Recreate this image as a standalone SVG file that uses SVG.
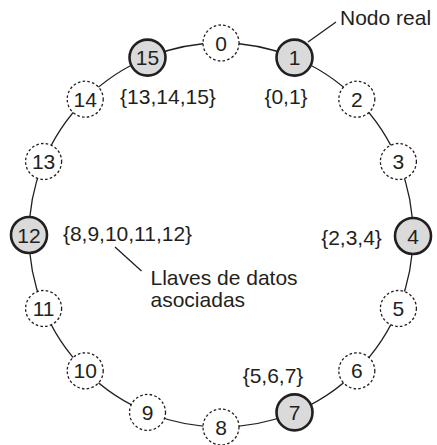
<svg xmlns="http://www.w3.org/2000/svg" width="437" height="445" viewBox="0 0 437 445">
<style>
text{font-family:"Liberation Sans",Arial,sans-serif;font-size:21px;fill:#231f20}
.n text{text-anchor:middle}
.real circle{fill:#dadada;stroke:#231f20;stroke-width:2.6}
.virt circle{fill:#fff;stroke:#231f20;stroke-width:1.3;stroke-dasharray:2.6 2.2}
.ln{fill:none;stroke:#231f20;stroke-width:1.3}
</style>
<rect width="437" height="445" fill="#fff"/>
<g id="connectors">
<circle class="ln" cx="221" cy="235" r="192"/>
<line class="ln" x1="308" y1="42" x2="336" y2="22"/>
<line class="ln" x1="115" y1="247" x2="141.5" y2="271"/>
</g>
<g id="n0" class="n virt"><circle cx="221" cy="43" r="18"/><text x="221" y="50.5">0</text></g>
<g id="n1" class="n real"><circle cx="294.5" cy="57.6" r="18"/><text x="294.5" y="65.1">1</text></g>
<g id="n2" class="n virt"><circle cx="356.8" cy="99.2" r="18"/><text x="356.8" y="106.7">2</text></g>
<g id="n3" class="n virt"><circle cx="398.4" cy="161.5" r="18"/><text x="398.4" y="169">3</text></g>
<g id="n4" class="n real"><circle cx="413" cy="236" r="18"/><text x="413" y="243.5">4</text></g>
<g id="n5" class="n virt"><circle cx="398.4" cy="308.5" r="18"/><text x="398.4" y="316">5</text></g>
<g id="n6" class="n virt"><circle cx="356.8" cy="370.8" r="18"/><text x="356.8" y="378.3">6</text></g>
<g id="n7" class="n real"><circle cx="294.5" cy="412.4" r="18"/><text x="294.5" y="419.9">7</text></g>
<g id="n8" class="n virt"><circle cx="221" cy="427" r="18"/><text x="221" y="434.5">8</text></g>
<g id="n9" class="n virt"><circle cx="147.5" cy="412.4" r="18"/><text x="147.5" y="419.9">9</text></g>
<g id="n10" class="n virt"><circle cx="85.2" cy="370.8" r="18"/><text x="85.2" y="378.3">10</text></g>
<g id="n11" class="n virt"><circle cx="43.6" cy="308.5" r="18"/><text x="43.6" y="316">11</text></g>
<g id="n12" class="n real"><circle cx="29" cy="235" r="18"/><text x="29" y="242.5">12</text></g>
<g id="n13" class="n virt"><circle cx="43.6" cy="161.5" r="18"/><text x="43.6" y="169">13</text></g>
<g id="n14" class="n virt"><circle cx="85.2" cy="99.2" r="18"/><text x="85.2" y="106.7">14</text></g>
<g id="n15" class="n real"><circle cx="147.5" cy="57.6" r="18"/><text x="147.5" y="65.1">15</text></g>
<g id="labels">
<text x="168" y="104" text-anchor="middle">{13,14,15}</text>
<text x="286" y="104" text-anchor="middle">{0,1}</text>
<text x="127.5" y="241" text-anchor="middle">{8,9,10,11,12}</text>
<text x="351.5" y="244.5" text-anchor="middle">{2,3,4}</text>
<text x="273" y="383" text-anchor="middle">{5,6,7}</text>
<text x="340" y="25" text-anchor="start">Nodo real</text>
<text x="150.5" y="284.5">Llaves de datos</text>
<text x="150.5" y="306.5">asociadas</text>
</g>
</svg>
